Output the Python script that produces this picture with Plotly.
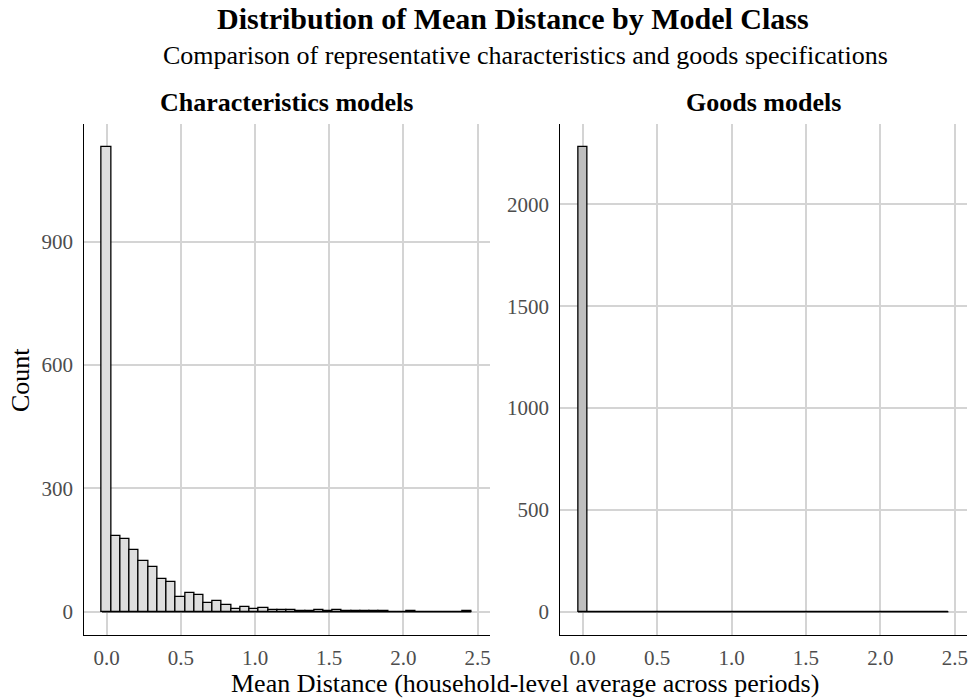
import plotly.graph_objects as go

# ---- data ----
bin_width = 0.0622
n_bins = 40
bin_centers = [i * bin_width for i in range(n_bins)]

char_counts = [1130, 185, 178, 151, 123, 108, 79, 72, 36, 45,
               42, 22, 26, 16, 7, 12, 6, 8, 4, 4,
               5, 2, 2, 5, 2, 4, 1, 2, 3, 1,
               3, 0, 0, 1, 0, 0, 0, 0, 0, 1]
goods_counts = [2281] + [0] * 39

x_ticks = [0.0, 0.5, 1.0, 1.5, 2.0, 2.5]
x_tick_labels = ["0.0", "0.5", "1.0", "1.5", "2.0", "2.5"]
char_y_ticks = [0, 300, 600, 900]
goods_y_ticks = [0, 500, 1000, 1500, 2000]

title = "Distribution of Mean Distance by Model Class"
subtitle = "Comparison of representative characteristics and goods specifications"
panel_titles = ["Characteristics models", "Goods models"]
x_title = "Mean Distance (household-level average across periods)"
y_title = "Count"

# ---- styling ----
FONT = "Liberation Serif"
W, H = 972, 700
GRID = "#D4D4D4"
TICK_COLOR = "#4D4D4D"

def px_x(page_x):
    return page_x / W

def px_y(page_y):
    return 1 - page_y / H

edge_lo = bin_centers[0] - bin_width / 2
edge_hi = bin_centers[-1] + bin_width / 2
span = edge_hi - edge_lo
x_range = [edge_lo - 0.05 * span, edge_hi + 0.05 * span]

def y_range(counts):
    m = max(counts)
    return [-0.05 * m, 1.05 * m]

fig = go.Figure()

panels = [
    (char_counts, "#DEDEDE", "x", "y"),
    (goods_counts, "#BEBEBE", "x2", "y2"),
]
for counts, fill, xa, ya in panels:
    fig.add_trace(go.Scatter(
        x=[edge_lo, edge_hi], y=[0, 0], mode="lines",
        line=dict(color="black", width=1.3),
        xaxis=xa, yaxis=ya, showlegend=False, hoverinfo="skip"))
    fig.add_trace(go.Bar(
        x=bin_centers, y=counts, width=bin_width,
        marker=dict(color=fill, line=dict(color="black", width=1.3)),
        xaxis=xa, yaxis=ya, showlegend=False))

ybot = px_y(635)
ytop = px_y(124)
dom1 = [px_x(83.5), px_x(489.7)]
dom2 = [px_x(559.5), px_x(966.9)]

xaxis_common = dict(
    range=x_range, tickvals=x_ticks, ticktext=x_tick_labels,
    showgrid=True, gridcolor=GRID, gridwidth=1.6,
    zeroline=False, showline=True, linecolor="black", linewidth=1.4,
    ticks="", ticklabelstandoff=4,
    tickfont=dict(family=FONT, size=21, color=TICK_COLOR),
)
yaxis_common = dict(
    showgrid=True, gridcolor=GRID, gridwidth=1.6,
    zeroline=False, showline=True, linecolor="black", linewidth=1.4,
    ticks="", ticklabelstandoff=5,
    tickfont=dict(family=FONT, size=21, color=TICK_COLOR),
    domain=[ybot, ytop],
)

fig.update_layout(
    width=W, height=H,
    margin=dict(l=0, r=0, t=0, b=0),
    paper_bgcolor="white", plot_bgcolor="white",
    bargap=0, showlegend=False,
    font=dict(family=FONT, color="black"),
    xaxis=dict(**xaxis_common, anchor="y", domain=dom1),
    xaxis2=dict(**xaxis_common, anchor="y2", domain=dom2),
    yaxis=dict(**yaxis_common, range=y_range(char_counts),
               tickvals=char_y_ticks, anchor="x"),
    yaxis2=dict(**yaxis_common, range=y_range(goods_counts),
                tickvals=goods_y_ticks, anchor="x2"),
)

def ann(text, x, y, size, bold=False, angle=0):
    fig.add_annotation(
        text=f"<b>{text}</b>" if bold else text,
        x=x, y=y, xref="paper", yref="paper",
        xanchor="center", yanchor="middle", showarrow=False,
        textangle=angle,
        font=dict(family=FONT, size=size, color="black"))

center_x = (dom1[0] + dom2[1]) / 2
ann(title, px_x(513), px_y(19), 30, bold=True)
ann(subtitle, center_x, px_y(56), 26)
ann(panel_titles[0], (dom1[0] + dom1[1]) / 2, px_y(103), 26, bold=True)
ann(panel_titles[1], (dom2[0] + dom2[1]) / 2, px_y(103), 26, bold=True)
ann(x_title, center_x, px_y(683), 26)
ann(y_title, px_x(21), px_y(380), 26, angle=-90)

fig.write_html(
    "out.html",
    config={"displayModeBar": False},
    post_script="document.body.style.margin='0';document.body.style.overflow='hidden';",
)
